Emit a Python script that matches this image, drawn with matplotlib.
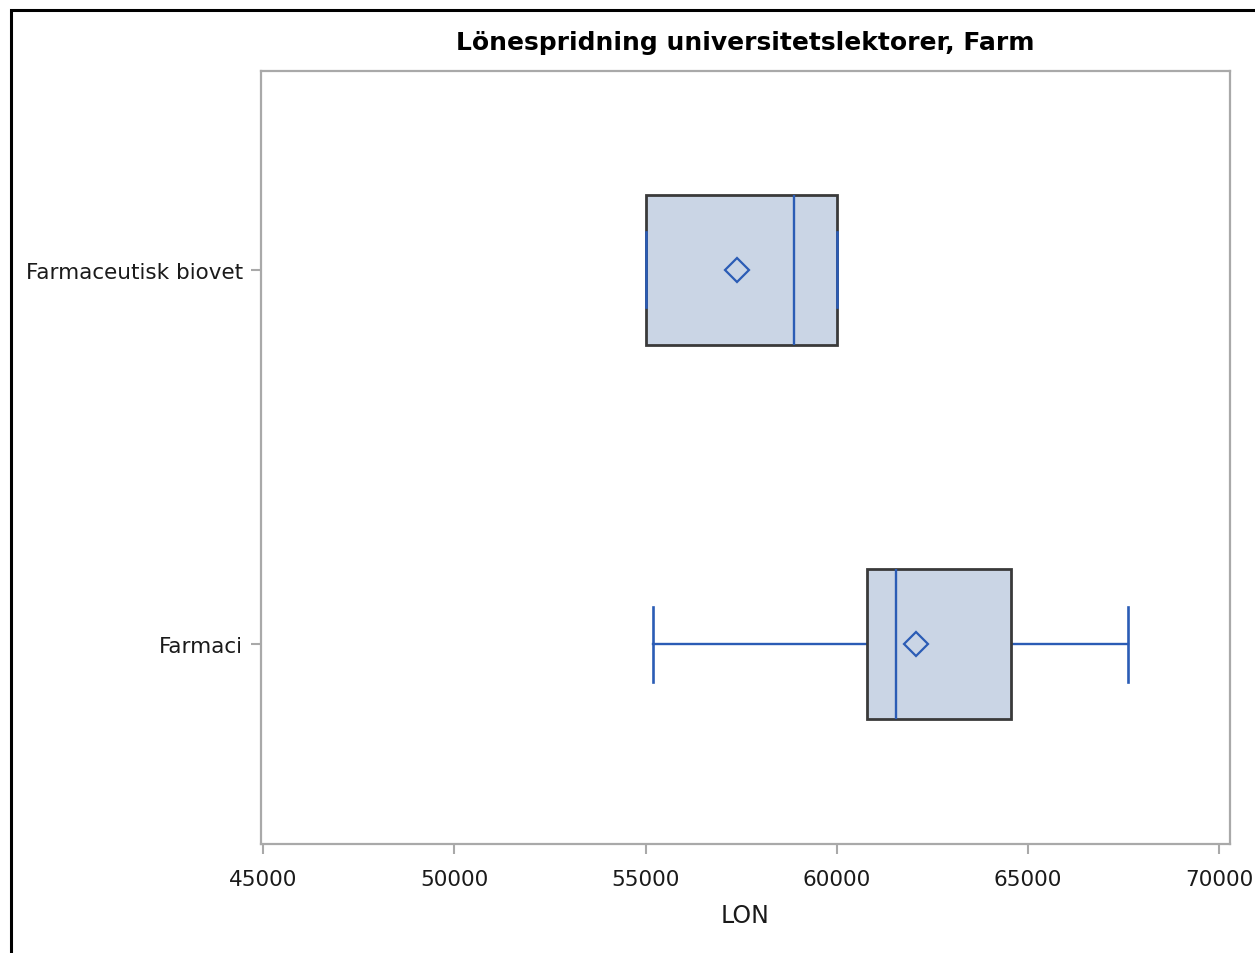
import matplotlib
matplotlib.use("Agg")
import matplotlib.pyplot as plt
from matplotlib.patches import Rectangle

# ---- data ----
categories = ["Farmaci", "Farmaceutisk biovet"]
q1 = [60790, 55000]
median = [61540, 58890]
q3 = [64550, 60000]
whislo = [55200, 55000]
whishi = [67600, 60000]
means = [62070, 57400]
xticks = [45000, 50000, 55000, 60000, 65000, 70000]
title = "Lönespridning universitetslektorer, Farm"
xlabel = "LON"

W, H = 1255, 954
fill = "#cad5e5"
edge = "#3a3a3a"
blue = "#2b5cb5"
frame = "#a9a9a9"

plt.rcParams["font.family"] = ["DejaVu Sans"]

fig = plt.figure(figsize=(W / 100, H / 100), dpi=100)
ax = fig.add_axes([261 / W, 1 - 845 / H, (1230 - 261) / W, (845 - 72) / H])

stats = []
for c, a, m, b, lo, hi, mu in zip(categories, q1, median, q3, whislo, whishi, means):
    stats.append(dict(label=c, q1=a, med=m, q3=b, whislo=lo, whishi=hi,
                      mean=mu, fliers=[]))

ax.bxp(stats, positions=list(range(len(categories))), widths=0.4,
       orientation="horizontal", patch_artist=True, showmeans=True,
       showcaps=True, capwidths=0.2, showfliers=False,
       boxprops=dict(facecolor=fill, edgecolor=edge, linewidth=2.0, zorder=2),
       whiskerprops=dict(color=blue, linewidth=1.7, zorder=1.5),
       capprops=dict(color=blue, linewidth=1.9, zorder=3),
       medianprops=dict(color=blue, linewidth=1.7, zorder=3),
       meanprops=dict(marker="D", markerfacecolor="none", markeredgecolor=blue,
                      markersize=12, markeredgewidth=1.6, zorder=4))

ax.set_xlim(44940, 70280)
ax.set_ylim(-0.534, 1.531)
ax.set_xticks(xticks)
ax.set_xticklabels([str(v) for v in xticks])
ax.set_yticks(list(range(len(categories))))
ax.set_yticklabels(categories)

for s in ax.spines.values():
    s.set_color(frame)
    s.set_linewidth(1.6)
ax.tick_params(axis="both", direction="out", length=7, width=1.5, color=frame,
               labelsize=15.5, labelcolor="#1a1a1a")
ax.tick_params(axis="x", pad=11)
ax.tick_params(axis="y", pad=6)

ax.set_xlabel(xlabel, fontsize=17, color="#1a1a1a", labelpad=10)
fig.text((261 + 1230) / 2 / W, 1 - 43 / H, title, ha="center", va="center",
         fontsize=18, fontweight="bold", color="black")

fig.add_artist(Rectangle((10.5 / W, -0.1), 1.2, (954 - 11) / H + 0.1,
                         transform=fig.transFigure, fill=False,
                         linewidth=2.2, edgecolor="black"))

fig.savefig("out.png", dpi=100, facecolor="white")
